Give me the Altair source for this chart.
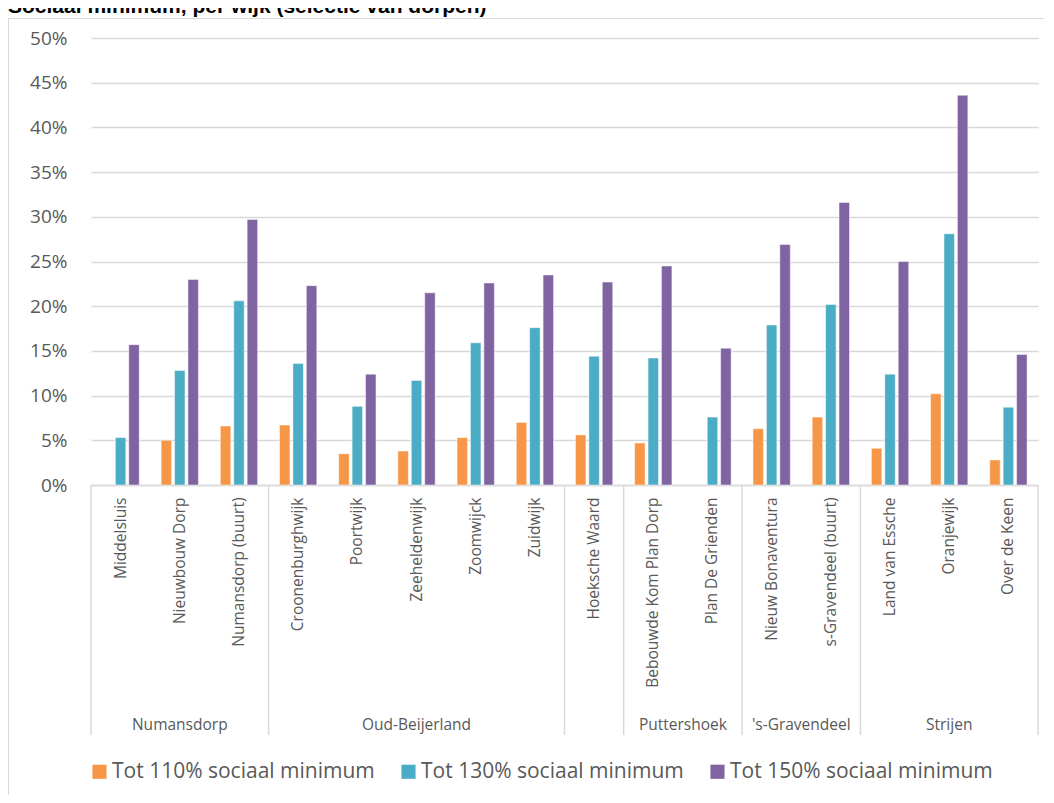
import altair as alt
import pandas as pd

# ---------------- data ----------------
title_text = "Sociaal minimum, per wijk (selectie van dorpen)"
wijken = [
    "Middelsluis", "Nieuwbouw Dorp", "Numansdorp (buurt)",
    "Croonenburghwijk", "Poortwijk", "Zeeheldenwijk", "Zoomwijck", "Zuidwijk",
    "Hoeksche Waard",
    "Bebouwde Kom Plan Dorp", "Plan De Grienden",
    "Nieuw Bonaventura", "s-Gravendeel (buurt)",
    "Land van Essche", "Oranjewijk", "Over de Keen",
]
dorpen = ["Numansdorp", "Oud-Beijerland", "", "Puttershoek", "'s-Gravendeel", "Strijen"]
dorp_sizes = [3, 5, 1, 2, 2, 3]
series = ["Tot 110% sociaal minimum", "Tot 130% sociaal minimum", "Tot 150% sociaal minimum"]
tot110 = [None, 5.0, 6.6, 6.7, 3.5, 3.8, 5.3, 7.0, 5.6, 4.7, None, 6.3, 7.6, 4.1, 10.2, 2.8]
tot130 = [5.3, 12.8, 20.6, 13.6, 8.8, 11.7, 15.9, 17.6, 14.4, 14.2, 7.6, 17.9, 20.2, 12.4, 28.1, 8.7]
tot150 = [15.7, 23.0, 29.7, 22.3, 12.4, 21.5, 22.6, 23.5, 22.7, 24.5, 15.3, 26.9, 31.6, 25.0, 43.6, 14.6]
colors = ["#F79646", "#4BACC6", "#8064A2"]
y_ticks = [0, 5, 10, 15, 20, 25, 30, 35, 40, 45, 50]

# ---------------- tables ----------------
rows = []
for s, vals in zip(series, [tot110, tot130, tot150]):
    for w, v in zip(wijken, vals):
        if v is not None:
            rows.append({"wijk": w, "reeks": s, "waarde": v})
df = pd.DataFrame(rows)

bounds = [0]
mids = []
for n in dorp_sizes:
    mids.append(bounds[-1] + n / 2)
    bounds.append(bounds[-1] + n)
bounds_df = pd.DataFrame({"pos": bounds})
groups_df = pd.DataFrame({"dorp": dorpen, "mid": mids})

W, H = 947, 447
GREY = "#D9D9D9"
TXT = "#595959"
idx_scale = alt.Scale(domain=[0, len(wijken)], nice=False, zero=False)

frame = alt.Chart(pd.DataFrame({"k": [0]})).mark_rect(
    fillOpacity=0, stroke=GREY, strokeWidth=1
).encode(
    x=alt.value(-82.5), x2=alt.value(W + 60),
    y=alt.value(-19.5), y2=alt.value(H + 400),
)

title = alt.Chart(pd.DataFrame({"t": [title_text]})).mark_text(
    font="Liberation Sans", fontWeight="bold", fontSize=21, color="black",
    align="left", baseline="alphabetic"
).encode(x=alt.value(-83), y=alt.value(-25), text="t:N")

bars = alt.Chart(df).mark_bar(stroke="white", strokeWidth=0.8, strokeOpacity=0.6).encode(
    x=alt.X(
        "wijk:N", sort=wijken,
        scale=alt.Scale(paddingInner=0.37, paddingOuter=0.185),
        axis=alt.Axis(
            title=None, labelAngle=-90, labelFont="Open Sans", labelFontSize=15.5,
            labelColor=TXT, labelPadding=12, ticks=False, tickSize=0,
            domain=True, domainColor=GREY, domainWidth=1.5, grid=False, labelLimit=400,
        ),
    ),
    xOffset=alt.XOffset("reeks:N", sort=series, scale=alt.Scale(paddingInner=0.22, paddingOuter=0)),
    y=alt.Y(
        "waarde:Q", scale=alt.Scale(domain=[0, 50], nice=False),
        axis=alt.Axis(
            title=None, values=y_ticks, labelExpr="datum.value + '%'",
            labelFont="Open Sans", labelFontSize=19, labelColor=TXT,
            labelPadding=24, ticks=False, tickSize=0, domain=False,
            grid=True, gridColor=GREY, gridWidth=1.5,
        ),
    ),
    color=alt.Color(
        "reeks:N", sort=series,
        scale=alt.Scale(domain=series, range=colors),
        legend=alt.Legend(
            title=None, orient="none", legendX=-2, legendY=723, direction="horizontal",
            symbolType="square", symbolSize=200, symbolStrokeWidth=0,
            labelFont="Open Sans", labelFontSize=21, labelColor=TXT,
            labelOffset=2, columnPadding=23, padding=0, labelLimit=400,
        ),
    ),
)

rules = alt.Chart(bounds_df).mark_rule(color=GREY, strokeWidth=1.5).encode(
    x=alt.X("pos:Q", scale=idx_scale, axis=None),
    y=alt.value(H), y2=alt.value(H + 250),
)

group_text = alt.Chart(groups_df).mark_text(
    font="Open Sans", fontSize=15.5, color=TXT, baseline="middle", align="center"
).encode(
    x=alt.X("mid:Q", scale=idx_scale, axis=None),
    y=alt.value(687),
    text="dorp:N",
)

chart = alt.layer(frame, bars, rules, group_text, title).resolve_scale(
    x="independent"
).properties(
    width=W, height=H,
    padding={"left": 83, "top": 30, "right": 6, "bottom": 310},
    autosize=alt.AutoSizeParams(type="none"),
    background="white",
).configure_view(strokeWidth=0)

chart.save("out.html", embed_options={"renderer": "svg", "actions": False})
